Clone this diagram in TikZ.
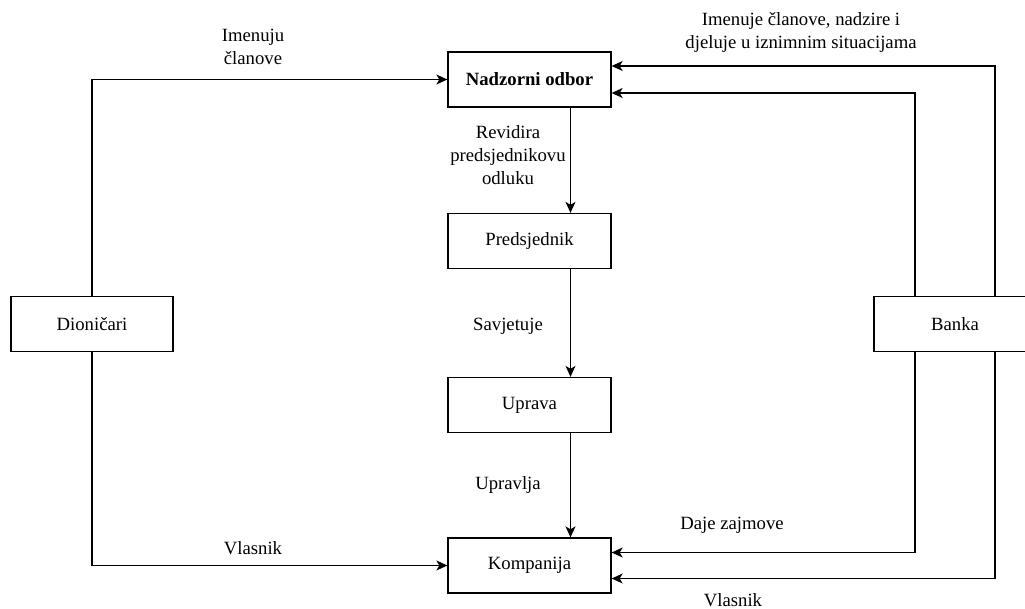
\documentclass[tikz,border=0pt]{standalone}
\usepackage{fontspec}
\setmainfont{Liberation Serif}
\usetikzlibrary{arrows.meta}
\begin{document}
\begin{tikzpicture}[x=1pt,y=-1pt,
  box/.style={draw=black,line width=1.3pt,minimum width=163pt,minimum height=55pt,inner sep=0pt,font=\fontsize{18.7}{22.5}\selectfont},
  lbl/.style={align=center,inner sep=0pt,font=\fontsize{18.7}{23}\selectfont},
  arr/.style={draw=black,line width=1.3pt,-{Stealth[length=11pt,width=10pt,inset=3pt]}},
  ln/.style={draw=black,line width=1.3pt}]
\useasboundingbox (0,0) rectangle (1025,609);
\node[box] (nad) at (529.5,79.5) {\textbf{Nadzorni odbor}};
\node[box] (pre) at (529.5,241) {Predsjednik};
\node[box] (upr) at (529.5,405) {Uprava};
\node[box] (kom) at (529.5,565.5) {Kompanija};
\node[box,minimum width=162pt] (dio) at (92,324) {Dioničari};
\node[box,minimum width=162pt] (ban) at (955,324) {Banka};
% central arrows
\draw[arr] ([xshift=41pt]nad.south) -- ([xshift=41pt]pre.north);
\draw[arr] ([xshift=41pt]pre.south) -- ([xshift=41pt]upr.north);
\draw[arr] ([xshift=41pt]upr.south) -- ([xshift=41pt]kom.north);
% shareholders
\draw[arr] (dio.north) |- (nad.west);
\draw[arr] (dio.south) |- (kom.west);
% bank
\draw[arr] ([xshift=40pt]ban.north) |- ([yshift=13.5pt]nad.east);
\draw[arr] ([xshift=-40pt]ban.north) |- ([yshift=-13.5pt]nad.east);
\draw[arr] ([xshift=-40pt]ban.south) |- ([yshift=13pt]kom.east);
\draw[arr] ([xshift=40pt]ban.south) |- ([yshift=-13pt]kom.east);
% labels
\node[lbl] (l1) at (253,47) {Imenuju\\članove};
\node[lbl] (l2) at (801,32) {Imenuje članove, nadzire i\\djeluje u iznimnim situacijama};
\node[lbl] (l3) at (508,155) {Revidira\\predsjednikovu\\odluku};
\node[lbl] (l4) at (508,326) {Savjetuje};
\node[lbl] (l5) at (508,485) {Upravlja};
\node[lbl] (l6) at (732,525) {Daje zajmove};
\node[lbl] (l7) at (253,548) {Vlasnik};
\node[lbl] (l8) at (733,600) {Vlasnik};
\end{tikzpicture}
\end{document}
